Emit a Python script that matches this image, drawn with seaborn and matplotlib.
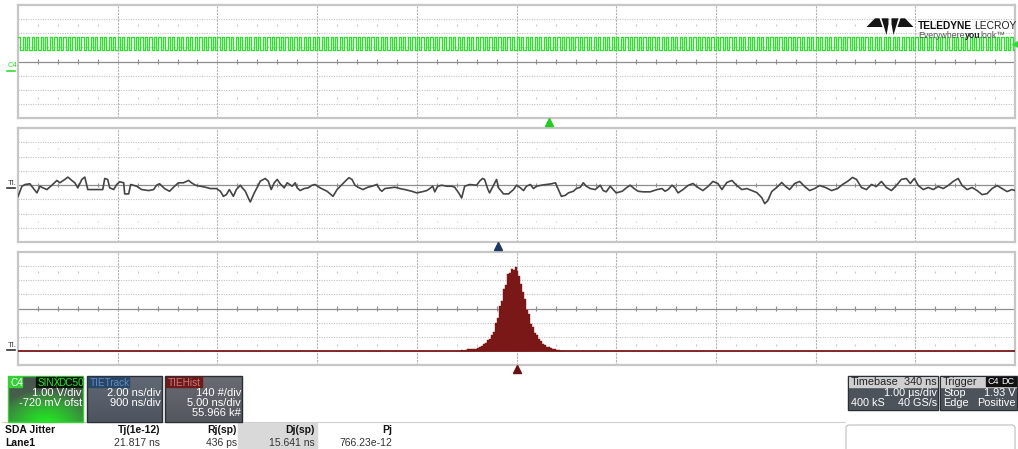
import numpy as np
import pandas as pd
import matplotlib
matplotlib.use("Agg")
from matplotlib import pyplot as plt
from matplotlib.patches import Rectangle, Polygon, FancyBboxPatch
import seaborn as sns

plt.rcParams['font.family'] = ['Liberation Sans', 'DejaVu Sans']

W, H = 1018, 449

# ----------------------------- data

# C4 clock, one character per half period (1 = high, 0 = low)
clock_bits = "".join([
    "1010101010101010101010101010101010101010",
    "1010101010101010101010101010101010101010",
    "1010101010101010101010101010101010101010",
    "1010101010101010101010101010101010101010",
    "1010101010101010101010101010101010101010",
    "1010101010101010101010101010101010101010",
    "1010101010101010101010101010101010101010",
    "1010101010101010101010101010101010101010",
    "1010101010101010101010101010101010101010",
    "1010101010101010101010101010101010101010",
    "1010101010101010101010101010101010101010",
])
clock_levels_v = {"0": 1.54, "1": 2.46}
c4_offset_v = 0.72          # -720 mV ofst -> screen centre
trigger_level_v = 1.93

# TIE track (time in us, TIE in ns)
tie_time_us = [
    -5.00, -4.96, -4.93, -4.88, -4.85, -4.81, -4.78, -4.75, -4.71, -4.66,
    -4.61, -4.58, -4.53, -4.50, -4.46, -4.43, -4.40, -4.36, -4.33, -4.30,
    -4.21, -4.15, -4.13, -4.10, -4.08, -4.04, -4.01, -3.98, -3.94, -3.93,
    -3.89, -3.87, -3.81, -3.76, -3.69, -3.64, -3.61, -3.58, -3.53, -3.48,
    -3.43, -3.39,
    -3.34, -3.29, -3.26, -3.22, -3.17, -3.12, -3.07, -3.01, -2.97, -2.94,
    -2.91, -2.88, -2.84, -2.81, -2.77, -2.75, -2.72, -2.69, -2.67, -2.63,
    -2.60, -2.57, -2.52, -2.49, -2.46, -2.43, -2.40, -2.37, -2.33, -2.30,
    -2.25, -2.22, -2.20, -2.17, -2.13, -2.09, -2.05, -2.02, -1.97, -1.90,
    -1.84, -1.80, -1.75, -1.70,
    -1.68, -1.65, -1.62, -1.59, -1.54, -1.49, -1.45, -1.40, -1.37, -1.35,
    -1.32, -1.27, -1.22, -1.17, -1.12, -1.05, -1.00, -0.95, -0.90, -0.87,
    -0.84, -0.82, -0.79, -0.75, -0.70, -0.65, -0.62, -0.58, -0.55, -0.52,
    -0.47, -0.40, -0.37, -0.34, -0.32, -0.29, -0.27, -0.23, -0.20, -0.18,
    -0.13, -0.08,
    -0.03, 0.00, 0.04, 0.07, 0.10, 0.14, 0.17, 0.20, 0.25, 0.30,
    0.35, 0.39, 0.42, 0.45, 0.49, 0.52, 0.57, 0.60, 0.64, 0.67,
    0.70, 0.74, 0.79, 0.84, 0.87, 0.90, 0.94, 0.97, 1.00, 1.06,
    1.11, 1.14, 1.18, 1.22, 1.27, 1.34, 1.41, 1.46, 1.49, 1.52,
    1.56, 1.59, 1.62,
    1.67, 1.72, 1.77, 1.82, 1.87, 1.92, 1.97, 2.02, 2.06, 2.11,
    2.16, 2.21, 2.26, 2.31, 2.36, 2.41, 2.46, 2.49, 2.52, 2.56,
    2.61, 2.66, 2.70, 2.74, 2.79, 2.84, 2.89, 2.94, 2.99, 3.04,
    3.10, 3.16, 3.22, 3.27, 3.32, 3.37, 3.41, 3.46, 3.51, 3.56,
    3.61, 3.66, 3.71, 3.76, 3.81, 3.86, 3.91, 3.95, 3.99, 4.03,
    4.08, 4.13, 4.18, 4.23, 4.28, 4.33, 4.38, 4.43, 4.47, 4.52,
    4.57, 4.62, 4.67, 4.72, 4.77, 4.82, 4.87, 4.92, 4.97, 5.00,
]
tie_ns = [
    -1.59, -0.17, 0.07, 0.17, -0.40, -1.11, -0.17, -0.40, -0.64, -0.03,
    0.64, 0.31, 0.78, 1.11, 0.64, 0.31, -0.40, 0.78, 1.11, -0.64,
    -0.64, -0.64, 0.92, 0.78, -0.40, -0.64, 0.07, 0.45, 0.31, -1.25,
    -1.25, 0.07, -0.17, -0.64, -0.78, -0.64, -0.03, 0.17, -0.50, -0.88,
    -0.17, 0.31,
    0.31, 0.64, 0.31, -0.03, -0.17, -0.31, -0.50, -0.50, -0.88, -1.59,
    -1.35, -0.64, -1.59, -0.64, -0.03, -0.40, -0.88, -1.82, -2.38, -1.11,
    -0.31, 0.54, 0.92, 0.54, -0.64, 0.31, 0.78, 0.17, -0.40, 0.31,
    -0.17, 0.31, -0.40, -0.78, -0.50, -0.40, -0.03, 0.07, -0.40, -0.88,
    -1.59, -0.64, 0.07, 0.78,
    1.02, 0.78, -0.03, -0.31, -0.64, -0.31, -0.17, 0.07, -0.64, -0.88,
    -0.50, -0.40, -0.31, -0.50, -0.64, -0.88, -1.11, -0.96, -0.78, -0.50,
    -0.17, -0.96, -0.17, -0.03, -0.17, -0.17, -0.31, -1.11, -1.82, -0.17,
    0.07, -0.03, 0.54, 0.92, 0.78, -0.50, -1.11, -0.03, 0.78, -0.40,
    -1.25, -1.25,
    -0.64, -0.03, -0.40, -0.78, -0.17, 0.07, -0.50, -0.17, -0.03, 0.07,
    0.17, 0.31, -0.64, -1.59, -1.45, -1.11, -0.88, -0.50, -0.31, 0.31,
    -0.17, -0.50, -0.64, -0.03, -0.78, -0.96, -0.17, -0.64, -1.11, -0.88,
    -0.31, -0.03, -0.50, -0.88, -0.96, -0.96, -0.64, -0.50, -0.88, -0.64,
    -0.03, -0.40, -1.11,
    -0.64, -0.07, 0.21, -0.35, -0.78, -0.21, 0.50, 0.21, -0.64, 0.35,
    0.64, -0.07, -0.64, -0.50, -0.78, -1.06, -1.77, -2.62, -2.20, -0.92,
    -0.35, 0.35, -0.21, -0.64, 0.21, 0.50, -0.21, -0.78, -0.50, -0.07,
    -0.35, -0.78, -0.50, 0.07, 0.50, 1.06, 0.78, -0.35, -0.64, 0.07,
    -0.21, 0.50, -0.35, -0.78, -0.07, 0.78, 0.92, 0.21, 0.92, -0.07,
    -0.64, -0.35, -0.64, -0.21, -0.50, -0.07, 0.50, 0.92, -0.07, -0.64,
    -0.35, -0.78, -1.35, -1.21, -0.50, -0.07, -0.50, -0.92, -0.64, -0.78,
]
assert len(tie_time_us) == len(tie_ns)

# TIE histogram: 0.1 ns bins starting at -2.8 ns
hist_first_edge_ns = -2.8
hist_bin_ns = 0.1
hist_counts = [
    5, 3, 12, 20, 17, 22, 14, 21, 26, 38,
    47, 72, 80, 105, 118, 156, 190, 275, 330, 440,
    495, 615, 650, 760, 775, 815, 800, 835, 795, 740,
    665, 580, 515, 410, 365, 270, 240, 180, 155, 120,
    95, 70, 62, 42, 36, 28, 18, 15, 9, 6,
    3, 2,
]

# descriptor boxes and parameter table
c4_lines = ["1.00 V/div", "-720 mV ofst"]
track_lines = ["2.00 ns/div", "900 ns/div"]
hist_lines = ["140 #/div", "5.00 ns/div", "55.966 k#"]
timebase = ["Timebase", "340 ns", "1.00 µs/div", "400 kS", "40 GS/s"]
trigger = ["Trigger", "Stop", "1.93 V", "Edge", "Positive"]
table_header = ["SDA Jitter", "Tj(1e-12)", "Rj(sp)", "Dj(sp)", "Pj"]
table_row = ["Lane1", "21.817 ns", "436 ps", "15.641 ns", "766.23e-12"]

GREEN = "#2ee02e"
TIE_GRAY = "#454545"
HIST_RED = "#7a1818"

# ----------------------------- layout helpers

fig = plt.figure(figsize=(W / 100, H / 100), dpi=100)
fig.patch.set_facecolor("white")

bg = fig.add_axes([0, 0, 1, 1], zorder=-5)
ov = fig.add_axes([0, 0, 1, 1], zorder=20)
for a in (bg, ov):
    a.axis("off")
    a.set_xlim(0, W)
    a.set_ylim(H, 0)
    a.set_autoscale_on(False)


def px_axes(x0, y0, x1, y1):
    ax = fig.add_axes([x0 / W, 1 - y1 / H, (x1 - x0) / W, (y1 - y0) / H])
    return ax


def scope_grid(ax):
    tr = ax.transAxes
    ax.vlines([i / 10 for i in range(1, 10)], 0, 1, transform=tr,
              color="#b2b2b2", lw=0.8, linestyles=(0, (2, 1)), zorder=1)
    ax.hlines([j / 8 for j in range(1, 8) if j != 4], 0, 1, transform=tr,
              color="#c2c2c2", lw=0.8, linestyles=(0, (1, 1.2)), zorder=1)
    ax.hlines([0.5], 0, 1, transform=tr, color="#8e8e8e", lw=0.9, zorder=1)
    minor = [k / 50 for k in range(1, 50) if k % 5 != 0]
    ax.vlines(minor, 0.482, 0.518, transform=tr, color="#8e8e8e", lw=0.8, zorder=1)
    for yy in (0.5 + 0.32, 0.5 - 0.32):
        ax.vlines(minor, yy - 0.008, yy + 0.008, transform=tr,
                  color="#c8c8c8", lw=0.8, zorder=1)
    ax.set(xlabel="", ylabel="", xticks=[], yticks=[])
    for sp in ax.spines.values():
        sp.set_color("#c6c6c6")
        sp.set_linewidth(1.6)


# ----------------------------- panel 1: C4 clock

ax1 = px_axes(18, 5, 1015, 118)
clock_t = np.linspace(-5, 5, len(clock_bits) + 1)
clock_v = [clock_levels_v[b] for b in clock_bits] + [clock_levels_v[clock_bits[-1]]]
sns.lineplot(x=clock_t, y=clock_v, drawstyle="steps-post", estimator=None,
             sort=False, color=GREEN, lw=0.95, ax=ax1, zorder=3)
scope_grid(ax1)
ax1.set_xlim(-5, 5)
ax1.set_ylim(c4_offset_v - 4, c4_offset_v + 4)
ax1.plot([5], [trigger_level_v], marker="<", color=GREEN, ms=4.5,
         clip_on=False, zorder=6)

# ----------------------------- panel 2: TIE track

ax2 = px_axes(18, 128, 1015, 242)
sns.lineplot(x=tie_time_us, y=tie_ns, estimator=None, sort=False,
             color=TIE_GRAY, lw=1.2, ax=ax2, zorder=3)
scope_grid(ax2)
ax2.set_xlim(-5, 5)
ax2.set_ylim(-8, 8)

# ----------------------------- panel 3: TIE histogram

ax3 = px_axes(18, 252, 1015, 365)
edges = hist_first_edge_ns + hist_bin_ns * np.arange(len(hist_counts) + 1)
hist_df = pd.DataFrame({"tie_ns": edges[:-1] + hist_bin_ns / 2,
                        "count": hist_counts})
scope_grid(ax3)
sns.histplot(data=hist_df, x="tie_ns", weights="count", bins=list(edges),
             color=HIST_RED, alpha=1, edgecolor=HIST_RED, linewidth=0.3,
             ax=ax3, zorder=3)
ax3.axhline(0, color=HIST_RED, lw=1.3, zorder=4)
ax3.set(xlabel="", ylabel="", xticks=[], yticks=[])
ax3.set_xlim(-25, 25)
ax3.set_ylim(-140, 980)

# ----------------------------- trace labels and markers

ov.text(8, 67, "C4", color=GREEN, fontsize=5.5, va="baseline")
ov.plot([7, 15], [71, 71], color=GREEN, lw=1.2)
ov.text(8, 185, "TI.", color="#333333", fontsize=5.5, va="baseline")
ov.plot([7, 15], [188, 188], color="#333333", lw=1.2)
ov.text(8, 347, "TI.", color="#333333", fontsize=5.5, va="baseline")
ov.plot([7, 15], [350, 350], color="#333333", lw=1.2)
ov.plot([549], [122], marker="^", color="#22cc22", ms=5.5)
ov.plot([498], [245.5], marker="^", color="#1e3a63", ms=5.5)
ov.plot([517], [369], marker="^", color="#6a1010", ms=5.5)

# ----------------------------- logo

r = fig.canvas.get_renderer()
logo_parts = [
    [(866.5, 27), (875, 18.3), (879.5, 18.3), (882.5, 27)],
    [(881.5, 18.3), (888.5, 18.3), (888.5, 24), (886.5, 35)],
    [(913.5, 27), (905, 18.3), (900.5, 18.3), (897.5, 27)],
    [(898.5, 18.3), (891.5, 18.3), (891.5, 24), (893.5, 35)],
]
for part in logo_parts:
    ov.add_patch(Polygon(part, closed=True, color="#141414", lw=0))
t = ov.text(918, 29, "TELEDYNE", fontsize=7.4, fontweight="bold", color="#111111",
            va="baseline")
x_next = t.get_window_extent(r).x1 + 2.5
ov.text(x_next, 29, "LECROY", fontsize=7.4, color="#222222", va="baseline")
t = ov.text(918, 37.5, "Everywhere", fontsize=6.3, color="#555555", va="baseline")
x_next = t.get_window_extent(r).x1
t = ov.text(x_next, 37.5, "you", fontsize=6.3, fontweight="bold", color="#222222",
            va="baseline")
x_next = t.get_window_extent(r).x1
ov.text(x_next, 37.5, "look\u2122", fontsize=6.3, color="#555555", va="baseline")

# ----------------------------- descriptor boxes


def grad_box(x0, y0, x1, y1, top, bottom, glow=None, edge="#2a2e33"):
    yy, xx = np.mgrid[0:1:40j, 0:1:60j]
    t = yy[..., None]
    img = np.array(top) * (1 - t) + np.array(bottom) * t
    if glow is not None:
        rr = np.sqrt(((xx - 0.5) / 0.65) ** 2 + ((yy - 1.05) / 0.75) ** 2)
        w = np.clip(1 - rr, 0, 1)[..., None] ** 0.8
        img = img * (1 - w) + np.array(glow) * w
    bg.imshow(img, extent=(x0, x1, y1, y0), aspect="auto", zorder=2,
              interpolation="bilinear")
    bg.add_patch(Rectangle((x0, y0), x1 - x0, y1 - y0, fill=False,
                           edgecolor=edge, lw=1.0, zorder=3))


def tag(x0, y0, w, h, text, fc, tc, fs=7.2):
    bg.add_patch(Rectangle((x0, y0), w, h, color=fc, zorder=4))
    bg.text(x0 + 1.5, y0 + h - 1.5, text, color=tc, fontsize=fs, zorder=5,
            va="baseline")


grad_box(8, 376, 83, 422, (0.29, 0.32, 0.31), (0.25, 0.45, 0.27),
         glow=(0.13, 0.93, 0.13), edge="#39d039")
tag(9, 377, 13, 10, "C4", "#35cf35", "white")
tag(36, 377, 19.5, 10, "SINX", "#0b160b", GREEN)
tag(57, 377, 25, 10, "DC50", "#0b160b", GREEN)
for i, s in enumerate(c4_lines):
    bg.text(82, 396 + 10 * i, s, color="white", fontsize=8, ha="right",
            va="baseline", zorder=5)

grad_box(87, 376, 162, 422, (0.38, 0.41, 0.46), (0.30, 0.33, 0.37))
tag(88, 377, 41, 10, "TIETrack", "#2a4667", "#5e8cc0")
for i, s in enumerate(track_lines):
    bg.text(161, 396 + 10 * i, s, color="white", fontsize=8, ha="right",
            va="baseline", zorder=5)

grad_box(165, 376, 242, 422, (0.41, 0.42, 0.45), (0.33, 0.34, 0.37))
tag(166, 377, 36, 10, "TIEHist", "#6e1a1a", "#c77a7a")
for i, s in enumerate(hist_lines):
    bg.text(241, 396 + 10 * i, s, color="white", fontsize=8, ha="right",
            va="baseline", zorder=5)

# timebase / trigger
for x0, x1 in ((848, 938), (940, 1017)):
    bg.add_patch(Rectangle((x0, 376), x1 - x0, 34, color="#4d535b", zorder=2))
    bg.add_patch(Rectangle((x0, 376), x1 - x0, 10.5, color="#cfcfcf", zorder=3))
    bg.add_patch(Rectangle((x0, 376), x1 - x0, 34, fill=False,
                           edgecolor="#2a2e33", lw=0.8, zorder=4))
bg.text(851, 385, timebase[0], fontsize=7.8, color="#222222", va="baseline", zorder=5)
bg.text(937, 385, timebase[1], fontsize=7.8, color="#222222", ha="right",
        va="baseline", zorder=5)
bg.text(937, 396, timebase[2], fontsize=7.8, color="white", ha="right",
        va="baseline", zorder=5)
bg.text(851, 406, timebase[3], fontsize=7.8, color="white", va="baseline", zorder=5)
bg.text(937, 406, timebase[4], fontsize=7.8, color="white", ha="right",
        va="baseline", zorder=5)
bg.text(943, 385, trigger[0], fontsize=7.8, color="#222222", va="baseline", zorder=5)
tag(986, 377, 13, 9, "C4", "#111111", "white", fs=6.5)
tag(1000, 377, 16, 9, "DC", "#111111", "white", fs=6.5)
bg.text(943, 396, trigger[1], fontsize=7.8, color="white", va="baseline", zorder=5)
bg.text(1016, 396, trigger[2], fontsize=7.8, color="white", ha="right",
        va="baseline", zorder=5)
bg.text(943, 406, trigger[3], fontsize=7.8, color="white", va="baseline", zorder=5)
bg.text(1016, 406, trigger[4], fontsize=7.8, color="white", ha="right",
        va="baseline", zorder=5)

# ----------------------------- parameter table

bg.plot([2, 845], [422, 422], color="#cfcfcf", lw=0.8, zorder=2)
bg.add_patch(Rectangle((238, 423), 79, 27, color="#d9d9d9", zorder=2))
col_right = [None, 160, 237, 315, 392]
for k, (hd, val) in enumerate(zip(table_header, table_row)):
    if k == 0:
        bg.text(5, 433, hd, fontsize=7.5, fontweight="bold", color="#111111",
                va="baseline", zorder=5)
        bg.text(5, 446, val, fontsize=7.5, fontweight="bold", color="#111111",
                va="baseline", zorder=5)
    else:
        bg.text(col_right[k], 433, hd, fontsize=7.5, fontweight="bold",
                color="#111111", ha="right", va="baseline", zorder=5)
        bg.text(col_right[k], 446, val, fontsize=7.5, color="#333333",
                ha="right", va="baseline", zorder=5)
bg.add_patch(FancyBboxPatch((846, 425), 169, 30, boxstyle="round,pad=0,rounding_size=3",
                            fill=False, edgecolor="#bdbdbd", lw=0.8, zorder=3))

for a in (bg, ov):
    a.set_xlim(0, W)
    a.set_ylim(H, 0)

path = "out.png"
plt.savefig(path, dpi=100)
print(f"Saved figure to {path}.")
plt.close()
